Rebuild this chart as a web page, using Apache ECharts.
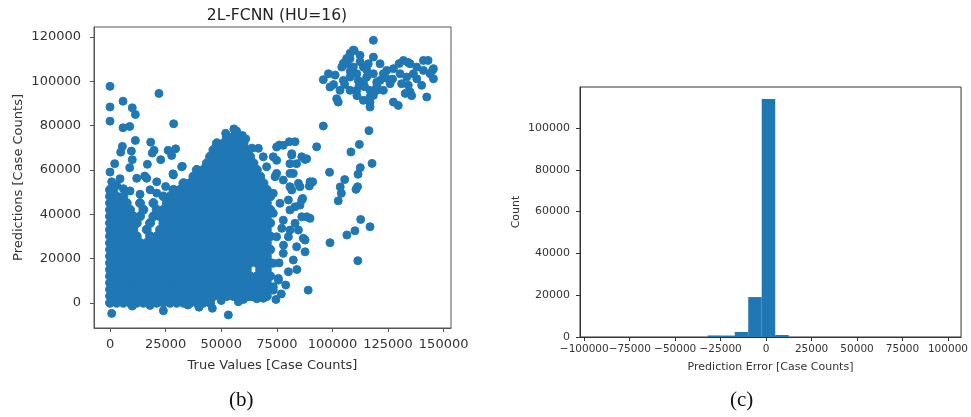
<!DOCTYPE html>
<html><head><meta charset="utf-8">
<script src="https://cdn.jsdelivr.net/npm/echarts@6/dist/echarts.min.js"></script>
<style>html,body{margin:0;padding:0;background:#fff}#c{width:971px;height:417px}</style>
</head><body><div id="c"></div>
<script>
// ---------- Scatter (b): True vs predicted ----------
// Dense core, read as rows: [y, x1, x2, ...]
const coreRows = [
  [0, 0,3000,6000,9000,12000,15000,18000,21000,24000,27000,30000,33000,36000,39000,42000,45000],
  [3000, 0,1500,4500,7500,10500,13500,16500,19500,22500,25500,28500,31500,34500,37500,40500,43500,46500,49500,52500,55500,58500,61500,64500,67500,70500],
  [6000, 0,3000,6000,9000,12000,15000,18000,21000,24000,27000,30000,33000,36000,39000,42000,45000,48000,51000,54000,57000,60000,63000,66000,69000,72000],
  [9000, 0,1500,4500,7500,10500,13500,16500,19500,22500,25500,28500,31500,34500,37500,40500,43500,46500,49500,52500,55500,58500,61500,64500,67500,70500],
  [12000, 0,3000,6000,9000,12000,15000,18000,21000,24000,27000,30000,33000,36000,39000,42000,45000,48000,51000,54000,57000,60000,63000,66000,69000,72000],
  [15000, 0,1500,4500,7500,10500,13500,16500,19500,22500,25500,28500,31500,34500,37500,40500,43500,46500,49500,52500,55500,58500,61500,67500,70500],
  [18000, 0,3000,6000,9000,12000,15000,18000,21000,24000,27000,30000,33000,36000,39000,42000,45000,48000,51000,54000,57000,60000,63000,66000,69000,72000],
  [21000, 0,1500,4500,7500,10500,13500,16500,19500,22500,25500,28500,31500,34500,37500,40500,43500,46500,49500,52500,55500,58500,61500,64500,67500,70500],
  [24000, 0,3000,6000,9000,12000,15000,18000,21000,24000,27000,30000,33000,36000,39000,42000,45000,48000,51000,54000,57000,60000,63000,66000,69000,72000],
  [27000, 0,1500,4500,7500,10500,13500,16500,19500,22500,25500,28500,31500,34500,37500,40500,43500,46500,49500,52500,55500,58500,61500,64500,67500,70500],
  [30000, 0,3000,6000,9000,12000,18000,21000,24000,27000,30000,33000,36000,39000,42000,45000,48000,51000,54000,57000,60000,63000,66000,69000,72000],
  [33000, 0,1500,4500,7500,10500,16500,22500,25500,28500,31500,34500,37500,40500,43500,46500,49500,52500,55500,58500,61500,64500,67500,70500],
  [36000, 0,3000,6000,9000,12000,18000,24000,27000,30000,33000,36000,39000,42000,45000,48000,51000,54000,57000,60000,63000,66000,69000,72000],
  [39000, 0,1500,4500,7500,10500,13500,19500,22500,25500,28500,31500,34500,37500,40500,43500,46500,49500,52500,55500,58500,61500,64500,67500,70500],
  [42000, 0,3000,6000,9000,15000,21000,24000,27000,30000,33000,36000,39000,42000,45000,48000,51000,54000,57000,60000,63000,66000,69000,72000],
  [45000, 0,1500,4500,7500,13500,19500,25500,28500,31500,34500,37500,40500,43500,46500,49500,52500,55500,58500,61500,64500,67500,70500],
  [48000, 0,3000,6000,24000,27000,30000,33000,36000,39000,42000,45000,48000,51000,54000,57000,60000,63000,66000,69000,72000],
  [51000, 0,1500,28500,31500,34500,37500,40500,43500,46500,49500,52500,55500,58500,61500,64500,67500,70500],
  [54000, 33000,36000,39000,42000,45000,48000,51000,54000,57000,60000,63000,66000,69000],
  [57000, 37500,40500,43500,46500,49500,52500,55500,58500,61500,64500,67500],
  [60000, 39000,42000,45000,48000,51000,54000,57000,60000,63000,66000],
  [63000, 43500,46500,49500,52500,55500,58500,61500,64500],
  [66000, 45000,48000,51000,54000,57000,60000,63000],
  [69000, 46500,49500,52500,55500,58500,61500],
  [72000, 48000,51000,54000,57000,60000],
  [75000, 52500,55500,58500]
];
const leftOutliers = [
  [0,97700],[22000,94500],[5850,91000],[0,88400],[10000,88000],[11400,85000],[0,82000],[5850,79000],
  [8850,79600],[28600,80800],[11400,73300],[5550,70600],[4800,68000],[9600,68500],[18300,72500],
  [19800,68800],[19000,67600],[26100,68800],[29500,69500],[27700,66500],[10000,64600],[2100,62800],
  [16800,62500],[22800,64600],[32500,61600],[8850,61000],[0,59000],[28300,58200],[15600,57200],
  [760,54600],[12000,56200],[16500,56200],[21000,54600],[32200,61400],[33700,53900],[28500,57700],
  [3000,53000],[6000,51500],[9000,50500],[13500,49000],[18000,51000],[21000,49500],[25000,52500],[4500,56000]
];
const centralPeak = [
  [55700,78500],[56900,77500],[52000,76500],[59500,75500],[63800,69800],[66700,69700],[68900,65900],[61000,74000]
];
const midScatter = [
  [80600,72700],[83200,72700],[76100,71200],[73400,65900],[81700,66700],[86200,65900],[87700,64700],
  [74900,70300],[77900,71100],[81700,67300],[88400,65000],[74900,64300],[80900,62800],[83900,62800],
  [70400,61400],[74900,58400],[77900,55400],[80900,52400],[82400,58400],[85400,52400],[73400,49400],
  [74200,56900],[80900,58400],[80200,46400],[86200,46400],[81700,50900],[84700,53900],[91100,54600],
  [89600,52700],[89900,54600],
  [80900,41900],[73400,40400],[77900,37300],[83200,35900],[86900,29100],[74900,29800],[80200,29800],
  [83900,25300],[87700,23000],[77900,22300],[82400,19300],[73400,17800],[80200,14000],[75700,11000],
  [73400,7200],[74600,1500],[89100,5700],[80900,32800],[84700,32800],[77200,33600],[86200,38800],
  [76400,44900],[83200,43300],[86600,47100],[85400,44100],[88400,38800],[89900,38100],[87700,28300],
  [62900,2700],[68900,2000],[65900,6500],[73400,5700],[75700,10200],[78000,26000],[76000,18000],
  [79000,8000],[84000,15000],[77000,4000]
];
const bottomOutliers = [
  [760,-4800],[24000,-3600],[46000,-2500],[53200,-5500],[57700,450],[50000,1000],[60000,1500],
  [66000,1800],[10000,-1500],[35000,-1000],[40000,-2000],[18000,-1200]
];
const rightLower = [
  [116400,77700],[112100,71500],[108300,68100],[117800,62900],[112500,61000],[111500,58000],
  [105500,55600],[103500,52300],[111300,52400],[104000,49400],[102600,46000],[110600,51200],
  [98700,58900],[112700,37600],[116900,34300],[110100,32500],[106500,30600],[98900,27100],
  [111400,19000],[95900,79800],[92900,70400]
];
const upperCluster = [
  [118400,118500],[109800,113900],[107900,110200],[112400,111700],[118400,110900],[106400,107900],
  [104200,106400],[113900,106400],[121400,107900],[131900,109400],[134900,107900],[140900,109400],
  [145400,105700],[143900,103400],[145400,101100],[98200,103400],[95900,100700],[98900,97400],
  [101900,92100],[102600,90600],[104900,100400],[107900,101900],[110900,103400],[115400,101900],
  [118400,103400],[121400,100400],[124400,104900],[127400,105700],[130400,103400],[133400,101900],
  [136400,103400],[137900,101100],[134100,98200],[134900,95100],[140100,98200],[142400,92900],
  [127400,90600],[129600,89100],[116900,90600],[116900,88400],[113900,91400],[110900,95900],
  [107900,95900],[119900,95900],[122900,95900],[116900,95900],[113900,99600],[119900,99600],
  [125900,98900],[131100,98900],[109400,106400],[116100,107900],[122900,103400],[111600,100400],
  [118400,93600],[116900,92900],[103400,95900],[137900,106400],[140900,104900],[145000,105000],
  [101200,102800],[132700,94500],[135600,93500],[143000,109400],[134000,108500],[130000,108000],
  [107900,112600],[109400,114100],[106400,110300],[104900,108100],[112400,108800],[115400,105100],
  [108000,104500],[112000,98000],[114500,97500],[120000,98000],[124000,101500],[127000,101000],
  [111000,93500],[105500,98500],[100500,98500]
];
const scatterXTicks = [0,25000,50000,75000,100000,125000,150000];
const scatterYTicks = [0,20000,40000,60000,80000,100000,120000];

// ---------- Histogram (c): prediction error ----------
const binEdges = [-32100,-24680,-17260,-9840,-2420,5000,12420];
const binCounts = [750,700,2400,19100,113900,950];
const histXTicks = [-100000,-75000,-50000,-25000,0,25000,50000,75000,100000];
const histYTicks = [0,20000,40000,60000,80000,100000];

const corePoints = coreRows.flatMap(r => r.slice(1).map(x => [x, r[0]]));
const sparsePoints = [].concat(leftOutliers, centralPeak, midScatter, bottomOutliers, rightLower, upperCluster);
const histData = binCounts.map((c, i) => [binEdges[i], binEdges[i + 1], c]);

const fmt = v => String(v).replace('-', '\u2212');
const F = 'DejaVu Sans';
function axisCommon(color, ticks, fs, margin) {
  return {
    axisLine: {show: true, onZero: false, lineStyle: {color: color, width: 1}},
    axisTick: {show: true, length: 4, customValues: ticks, lineStyle: {color: color}},
    axisLabel: {customValues: ticks, margin: margin, fontSize: fs, color: '#333', fontFamily: F,
      formatter: fmt, showMinLabel: true, showMaxLabel: true, hideOverlap: false},
    splitLine: {show: false}
  };
}
const dot = {color: '#1f77b4', opacity: 1, borderWidth: 1, borderColor: '#1f77b4', shadowBlur: 0};

const chart = echarts.init(document.getElementById('c'));
chart.setOption({
  animation: false,
  title: {text: '2L-FCNN (HU=16)', left: 272, top: 3, textAlign: 'center',
    textStyle: {fontFamily: F, fontSize: 15.6, fontWeight: 'normal', color: '#222'}},
  grid: [
    {left: 94, top: 27, width: 357, height: 301, show: true, borderColor: '#555', borderWidth: 1},
    {left: 580, top: 87, width: 384, height: 250, show: true, borderColor: '#333', borderWidth: 1}
  ],
  xAxis: [
    Object.assign({type: 'value', gridIndex: 0, min: -7200, max: 153300,
      name: 'True Values [Case Counts]', nameLocation: 'middle', nameGap: 31,
      nameTextStyle: {fontFamily: F, fontSize: 13, color: '#333'}}, axisCommon('#555', scatterXTicks, 13, 10)),
    Object.assign({type: 'value', gridIndex: 1, min: -102350, max: 107200,
      name: 'Prediction Error [Case Counts]', nameLocation: 'middle', nameGap: 25,
      nameTextStyle: {fontFamily: F, fontSize: 11, color: '#333'}}, axisCommon('#333', histXTicks, 10.5, 7))
  ],
  yAxis: [
    Object.assign({type: 'value', gridIndex: 0, min: -11400, max: 124500,
      name: 'Predictions [Case Counts]', nameLocation: 'middle', nameGap: 69,
      nameTextStyle: {fontFamily: F, fontSize: 13, color: '#333'}}, axisCommon('#555', scatterYTicks, 13, 13)),
    Object.assign({type: 'value', gridIndex: 1, min: 0, max: 119600,
      name: 'Count', nameLocation: 'middle', nameGap: 58,
      nameTextStyle: {fontFamily: F, fontSize: 11, color: '#333'}}, axisCommon('#333', histYTicks, 11, 10))
  ],
  series: [
    {type: 'scatter', xAxisIndex: 0, yAxisIndex: 0, data: corePoints, symbol: 'circle', symbolSize: 9, silent: true,
      emphasis: {disabled: true}, itemStyle: dot},
    {type: 'scatter', xAxisIndex: 0, yAxisIndex: 0, data: sparsePoints, symbol: 'circle', symbolSize: 8, silent: true,
      emphasis: {disabled: true}, itemStyle: dot},
    {type: 'custom', xAxisIndex: 1, yAxisIndex: 1, data: histData, silent: true,
      encode: {x: [0, 1], y: 2},
      renderItem: function (params, api) {
        const p0 = api.coord([api.value(0), api.value(2)]);
        const p1 = api.coord([api.value(1), 0]);
        return {type: 'rect', shape: {x: p0[0], y: p0[1], width: p1[0] - p0[0], height: p1[1] - p0[1]},
          style: {fill: '#1f77b4'}};
      }}
  ],
  graphic: [
    {type: 'text', left: 229, top: 390, style: {text: '(b)', font: '21px "Liberation Serif"', fill: '#111'}},
    {type: 'text', left: 730, top: 390, style: {text: '(c)', font: '21px "Liberation Serif"', fill: '#111'}}
  ]
});
</script></body></html>
